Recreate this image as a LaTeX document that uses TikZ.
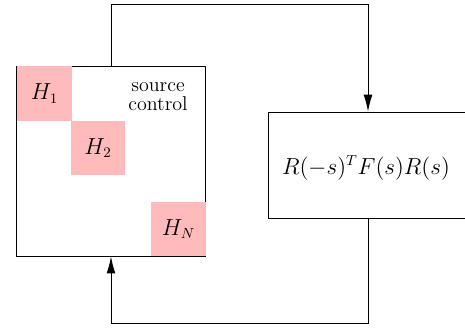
\documentclass[tikz,border=0pt]{standalone}
\usetikzlibrary{arrows.meta}
\definecolor{hpink}{RGB}{255,187,187}
\begin{document}
\begin{tikzpicture}[x=0.62pt,y=-0.62pt,
  font=\fontsize{12.4pt}{11.8pt}\selectfont,
  mth/.style={font=\fontsize{13.4pt}{14pt}\selectfont},
  blk/.style={draw, line width=0.6pt, inner sep=0pt},
  hblk/.style={fill=hpink, inner sep=0pt, minimum size=33.5pt, mth},
  conn/.style={line width=0.6pt},
  arr/.style={conn, -{Latex[length=10.5pt,width=5.5pt]}}]
\useasboundingbox (0,0) rectangle (465,331);
\node[blk, minimum width=116.6pt, minimum height=117.8pt] (L) at (111,161) {};
\node[hblk] (H1) at (44.5,93.5) {$H_1$};
\node[hblk] (H2) at (98,148) {$H_2$};
\node[hblk] (HN) at (178.5,229) {$H_N$};
\node[align=center, inner sep=0pt] (sc) at (158,97) {source\\control};
\node[blk, minimum width=124pt, minimum height=66.3pt] (R) at (368,165.5) {};
\node[mth] (Rt) at (366,168) {$R(-s)^TF(s)R(s)$};
\coordinate (top) at (111,4.5);
\coordinate (bot) at (111,323);
\draw[arr] (L.north) -- (top) -| (R.north);
\draw[arr] (R.south) |- (bot) -- (L.south);
\end{tikzpicture}
\end{document}
